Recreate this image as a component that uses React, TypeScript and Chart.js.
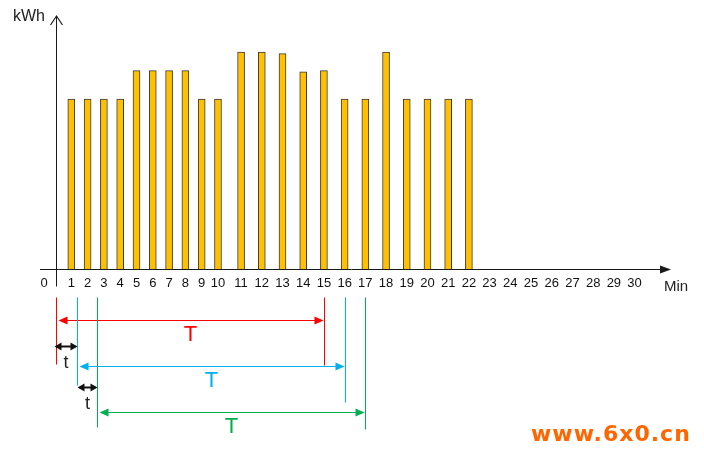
import React, { useEffect, useRef } from 'react';
import { Chart, LinearScale, registerables } from 'chart.js';

// ---- data ----
const MINUTES = [1, 2, 3, 4, 5, 6, 7, 8, 9, 10, 11, 12, 13, 14, 15, 16, 17, 18, 19, 20, 21, 22];
const ENERGY = [3.0, 3.0, 3.0, 3.0, 3.5, 3.5, 3.5, 3.5, 3.0, 3.0, 3.83, 3.83, 3.8, 3.48, 3.5, 3.0, 3.0, 3.83, 3.0, 3.0, 3.0, 3.0];
const TICK_FIRST = 0;
const TICK_LAST = 30;
const WINDOW_STARTS = [0, 1.33, 2.56];
const WINDOW_ENDS = [15, 16, 17];
const WINDOW_COLORS = ['#FF0000', '#00B0F0', '#00B050'];
const WINDOW_LABEL = 'T';
const STEP_LABEL = 't';
const Y_UNIT = 'kWh';
const X_UNIT = 'Min';
const WATERMARK = 'www.6x0.cn';

// uneven spacing of the original drawing (minutes -> axis units)
const WARP_IN = [0, 10, 11, 31];
const WARP_OUT = [0, 7.87, 8.985, 28.985];

function pw(v: number, a: number[], b: number[]) {
  let i = 0;
  while (i < a.length - 2 && v > a[i + 1]) i++;
  const t = (v - a[i]) / (a[i + 1] - a[i]);
  return b[i] + t * (b[i + 1] - b[i]);
}
const warp = (v: number) => pw(v, WARP_IN, WARP_OUT);
const unwarp = (v: number) => pw(v, WARP_OUT, WARP_IN);

class WarpScale extends LinearScale {
  static id = 'warp';
  static defaults = LinearScale.defaults;
  getPixelForValue(value: any) {
    if (value === null || value === undefined || isNaN(value)) return NaN;
    const a = warp(this.min), b = warp(this.max);
    return this.getPixelForDecimal((warp(value) - a) / (b - a));
  }
  getValueForPixel(pixel: number) {
    const a = warp(this.min), b = warp(this.max);
    return unwarp(a + this.getDecimalForPixel(pixel) * (b - a));
  }
}

Chart.register(...registerables, WarpScale);

const FONT = '"Liberation Sans", Arial, sans-serif';

function line(ctx: CanvasRenderingContext2D, x1: number, y1: number, x2: number, y2: number, color: string, w = 1) {
  ctx.save();
  ctx.strokeStyle = color;
  ctx.lineWidth = w;
  ctx.beginPath();
  ctx.moveTo(x1, y1);
  ctx.lineTo(x2, y2);
  ctx.stroke();
  ctx.restore();
}

function head(ctx: CanvasRenderingContext2D, tipX: number, y: number, dir: number, color: string, len = 8, half = 3.5) {
  ctx.save();
  ctx.fillStyle = color;
  ctx.beginPath();
  ctx.moveTo(tipX, y);
  ctx.lineTo(tipX - dir * len, y - half);
  ctx.lineTo(tipX - dir * len, y + half);
  ctx.closePath();
  ctx.fill();
  ctx.restore();
}

function dblArrow(ctx: CanvasRenderingContext2D, x1: number, x2: number, y: number, color: string, w = 1, len = 8, half = 3.5) {
  line(ctx, x1 + 2, y, x2 - 2, y, color, w);
  head(ctx, x1, y, -1, color, len, half);
  head(ctx, x2, y, 1, color, len, half);
}

const overlay = {
  id: 'overlay',
  afterDatasetsDraw(chart: any) {
    const ctx: CanvasRenderingContext2D = chart.ctx;
    const xs = chart.scales.x;
    const ys = chart.scales.y;
    const px = (m: number) => Math.round(xs.getPixelForValue(m)) + 0.5;
    const y0 = Math.round(ys.getPixelForValue(0)) + 0.5;
    const ox = px(0) + 1;
    const axis = '#1a1a1a';

    // x axis with filled arrow
    line(ctx, xs.left, y0, xs.right + 16, y0, axis, 1);
    head(ctx, xs.right + 24, y0, 1, axis, 11, 4);
    // y axis with open arrow
    const top = chart.chartArea.top + 2;
    line(ctx, ox, top, ox, y0 + 17, axis, 1);
    ctx.save();
    ctx.strokeStyle = axis;
    ctx.lineWidth = 1.2;
    ctx.beginPath();
    ctx.moveTo(ox - 6, top + 9);
    ctx.lineTo(ox, top);
    ctx.lineTo(ox + 6, top + 9);
    ctx.stroke();
    ctx.restore();

    ctx.save();
    ctx.fillStyle = '#222';
    ctx.textBaseline = 'middle';
    ctx.textAlign = 'center';
    ctx.font = '16px ' + FONT;
    ctx.fillText(Y_UNIT, 29, top + 1);
    ctx.font = '15px ' + FONT;
    ctx.fillText(X_UNIT, xs.right + 29, y0 + 17);
    ctx.restore();

    // sliding windows
    const vTop = y0 + 28;
    const arrowY = [y0 + 51, y0 + 97, y0 + 143];
    const leftBottom = [y0 + 95, y0 + 116, y0 + 158];
    const rightBottom = [y0 + 96, y0 + 133, y0 + 160];
    WINDOW_STARTS.forEach((s, i) => {
      const c = WINDOW_COLORS[i];
      const xl = i === 0 ? ox : px(s);
      const xr = px(WINDOW_ENDS[i]);
      line(ctx, xl, vTop, xl, leftBottom[i], c, 1);
      line(ctx, xr, vTop, xr, rightBottom[i], c, 1);
      dblArrow(ctx, xl + 2, xr - 1, arrowY[i], c, 1, 9, 4);
      ctx.save();
      ctx.fillStyle = c;
      ctx.font = '22px ' + FONT;
      ctx.textAlign = 'center';
      ctx.textBaseline = 'middle';
      ctx.fillText(WINDOW_LABEL, (xl + xr) / 2, arrowY[i] + 14);
      ctx.restore();
    });

    // step arrows
    const stepY = [y0 + 77, y0 + 118];
    for (let i = 0; i < WINDOW_STARTS.length - 1; i++) {
      const xa = i === 0 ? ox - 2 : px(WINDOW_STARTS[i]);
      const xb = px(WINDOW_STARTS[i + 1]);
      dblArrow(ctx, xa, xb, stepY[i], '#111', 2, 7, 4);
      ctx.save();
      ctx.fillStyle = '#222';
      ctx.font = '18px ' + FONT;
      ctx.textAlign = 'center';
      ctx.textBaseline = 'middle';
      ctx.fillText(STEP_LABEL, (xa + xb) / 2, stepY[i] + 17);
      ctx.restore();
    }

    // watermark
    ctx.save();
    ctx.fillStyle = '#FF6600';
    ctx.font = 'bold 22px "DejaVu Sans", sans-serif';
    (ctx as any).letterSpacing = '1px';
    ctx.textAlign = 'left';
    ctx.textBaseline = 'middle';
    ctx.fillText(WATERMARK, 531, 435);
    ctx.restore();
  },
};

export default function App() {
  const ref = useRef<HTMLCanvasElement>(null);
  useEffect(() => {
    if (!ref.current) return;
    const chart = new Chart(ref.current, {
      type: 'bar',
      data: {
        datasets: [
          {
            data: MINUTES.map((m, i) => ({ x: m, y: ENERGY[i] })),
            backgroundColor: '#FFC000',
            borderColor: '#3A3A3A',
            borderWidth: 1,
            barThickness: 7,
            borderSkipped: 'start',
          } as any,
        ],
      },
      options: {
        responsive: false,
        animation: false,
        devicePixelRatio: 1,
        layout: { padding: { left: 40, right: 57, top: 14, bottom: 146 } },
        plugins: { legend: { display: false }, tooltip: { enabled: false } },
        scales: {
          x: {
            type: 'warp' as any,
            min: -0.92,
            max: 30.6,
            offset: false,
            grid: { display: false, drawTicks: false },
            border: { display: false },
            ticks: {
              stepSize: 1,
              includeBounds: false,
              autoSkip: false,
              maxRotation: 0,
              padding: 7,
              color: '#111',
              font: { family: FONT, size: 13 },
              callback: (v: any) => {
                const n = Number(v);
                if (!(Number.isInteger(n) && n >= TICK_FIRST && n <= TICK_LAST)) return '';
                // first label sits left of the vertical axis, as in the drawing
                return n === TICK_FIRST ? String(n) + '      ' : String(n);
              },
            },
            afterFit: (s: any) => {
              s.height = 40;
            },
          } as any,
          y: { display: false, min: 0, max: 4.5 },
        },
      },
      plugins: [overlay],
    });
    return () => chart.destroy();
  }, []);
  return (
    <div style={{ position: 'fixed', left: 0, top: 0, width: 704, height: 455, background: '#fff' }}>
      <canvas ref={ref} width={704} height={455} style={{ display: 'block' }} />
    </div>
  );
}
